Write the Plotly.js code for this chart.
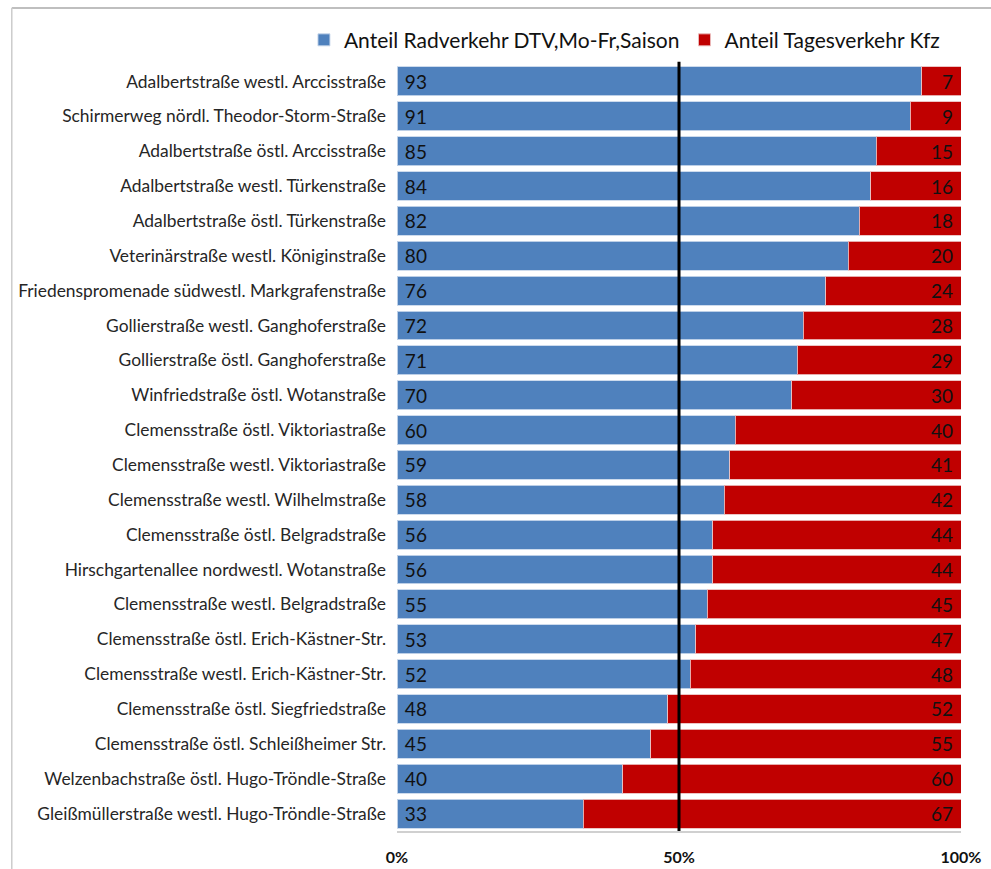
<!DOCTYPE html>
<html>
<head>
<meta charset="utf-8">
<script src="https://cdn.plot.ly/plotly-3.0.1.min.js"></script>
<style>
  html, body { margin: 0; padding: 0; background: #ffffff; }
  #chart { width: 991px; height: 869px; }
</style>
</head>
<body>
<div id="chart"></div>
<script>
// Measuring points, listed top to bottom
const stations = [
  "Adalbertstraße westl. Arccisstraße",
  "Schirmerweg nördl. Theodor-Storm-Straße",
  "Adalbertstraße östl. Arccisstraße",
  "Adalbertstraße westl. Türkenstraße",
  "Adalbertstraße östl. Türkenstraße",
  "Veterinärstraße westl. Königinstraße",
  "Friedenspromenade südwestl. Markgrafenstraße",
  "Gollierstraße westl. Ganghoferstraße",
  "Gollierstraße östl. Ganghoferstraße",
  "Winfriedstraße östl. Wotanstraße",
  "Clemensstraße östl. Viktoriastraße",
  "Clemensstraße westl. Viktoriastraße",
  "Clemensstraße westl. Wilhelmstraße",
  "Clemensstraße östl. Belgradstraße",
  "Hirschgartenallee nordwestl. Wotanstraße",
  "Clemensstraße westl. Belgradstraße",
  "Clemensstraße östl. Erich-Kästner-Str.",
  "Clemensstraße westl. Erich-Kästner-Str.",
  "Clemensstraße östl. Siegfriedstraße",
  "Clemensstraße östl. Schleißheimer Str.",
  "Welzenbachstraße östl. Hugo-Tröndle-Straße",
  "Gleißmüllerstraße westl. Hugo-Tröndle-Straße"
];

// Share of bicycle traffic (%)
const anteilRad = [93, 91, 85, 84, 82, 80, 76, 72, 71, 70, 60, 59, 58, 56, 56, 55, 53, 52, 48, 45, 40, 33];
// Share of motor vehicle traffic (%)
const anteilKfz = [7, 9, 15, 16, 18, 20, 24, 28, 29, 30, 40, 41, 42, 44, 44, 45, 47, 48, 52, 55, 60, 67];

const xTickVals = [0, 50, 100];
const xTickText = ["0%", "50%", "100%"];

const seriesNames = ["Anteil Radverkehr DTV,Mo-Fr,Saison", "Anteil Tagesverkehr Kfz"];

const FONT = "Lato, 'Open Sans', sans-serif";

const traces = [
  {
    type: "bar",
    orientation: "h",
    name: seriesNames[0],
    y: stations,
    x: anteilRad,
    text: anteilRad.map(v => " " + v),
    textposition: "inside",
    insidetextanchor: "start",
    textangle: 0,
    constraintext: "none",
    textfont: { family: FONT, size: 19, color: "#111111" },
    marker: { color: "#4f81bd", line: { color: "rgba(200,215,235,0.9)", width: 1 } },
    hoverinfo: "x+y"
  },
  {
    type: "bar",
    orientation: "h",
    name: seriesNames[1],
    y: stations,
    x: anteilKfz,
    text: anteilKfz.map(v => v + " "),
    textposition: "inside",
    insidetextanchor: "end",
    textangle: 0,
    constraintext: "none",
    textfont: { family: FONT, size: 19, color: "#111111" },
    marker: { color: "#c00000", line: { color: "rgba(235,190,190,0.9)", width: 1 } },
    hoverinfo: "x+y"
  }
];

const layout = {
  width: 991,
  height: 869,
  barmode: "stack",
  bargap: 0.17,
  paper_bgcolor: "#ffffff",
  plot_bgcolor: "#ffffff",
  margin: { l: 397, r: 30, t: 64, b: 38 },
  font: { family: FONT, color: "#222222" },
  showlegend: true,
  legend: {
    orientation: "h",
    x: -0.165,
    xanchor: "left",
    y: 1.031,
    yanchor: "middle",
    font: { family: FONT, size: 21, color: "#111111" },
    traceorder: "normal",
    itemwidth: 30,
    bgcolor: "rgba(0,0,0,0)"
  },
  xaxis: {
    range: [0, 100],
    tickvals: xTickVals,
    ticktext: xTickText,
    tickfont: { family: FONT, size: 16, color: "#111111", weight: "bold" },
    showgrid: false,
    zeroline: false,
    showline: true,
    linecolor: "#d0d0d0",
    linewidth: 2,
    ticks: "",
    ticklabelstandoff: 11,
    fixedrange: true
  },
  yaxis: {
    autorange: "reversed",
    type: "category",
    tickfont: { family: FONT, size: 17.4, color: "#262626" },
    showgrid: false,
    zeroline: false,
    showline: false,
    ticks: "",
    ticklabelstandoff: 10,
    fixedrange: true
  },
  shapes: [
    // 50 % reference line
    {
      type: "line", xref: "x", yref: "paper",
      x0: 50, x1: 50, y0: 0, y1: 1.003,
      line: { color: "#000000", width: 3 }
    },
    // chart frame, top and left edges
    {
      type: "line", xref: "paper", yref: "paper",
      x0: -0.683, x1: 1.06, y0: 1.073, y1: 1.073,
      line: { color: "#aaaaaa", width: 1.5 }
    },
    {
      type: "line", xref: "paper", yref: "paper",
      x0: -0.683, x1: -0.683, y0: -0.05, y1: 1.073,
      line: { color: "#cccccc", width: 1.5 }
    }
  ]
};

Plotly.newPlot("chart", traces, layout, { displayModeBar: false, staticPlot: true });
</script>
</body>
</html>
